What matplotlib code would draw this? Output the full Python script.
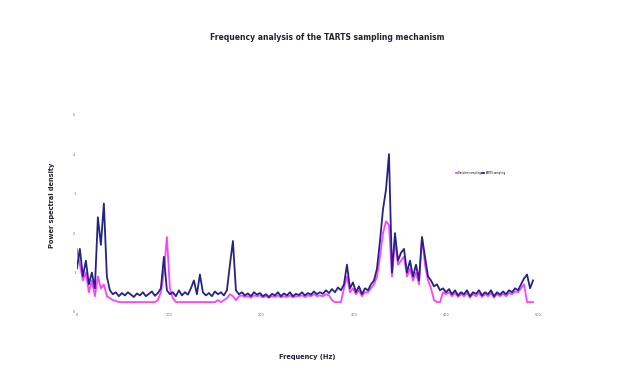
import numpy as np
import matplotlib
matplotlib.use("Agg")
import matplotlib.pyplot as plt

# Power spectral density values (arbitrary units)
tarts_psd = [
    1.1, 1.6, 0.9, 1.3, 0.7, 1.0, 0.6, 2.4, 1.7, 2.75,
    0.9, 0.55, 0.45, 0.5, 0.4, 0.48, 0.42, 0.5, 0.44, 0.38,
    0.47, 0.42, 0.5, 0.4, 0.46, 0.52, 0.41, 0.48, 0.6, 1.4,
    0.55, 0.45, 0.5, 0.4, 0.55, 0.42, 0.5, 0.44, 0.6, 0.8,
    0.45, 0.95, 0.5, 0.42, 0.48, 0.4, 0.52, 0.45, 0.5, 0.42,
    0.55, 1.2, 1.8, 0.55, 0.45, 0.5, 0.42, 0.47, 0.4, 0.5,
    0.44, 0.48, 0.4, 0.45, 0.38, 0.46, 0.42, 0.5, 0.4, 0.47,
    0.42, 0.5, 0.4, 0.46, 0.43, 0.5, 0.42, 0.48, 0.44, 0.52,
    0.45, 0.5, 0.46, 0.55, 0.48, 0.58, 0.5, 0.62, 0.55, 0.7,
    1.2, 0.6, 0.75, 0.5, 0.65, 0.45, 0.6, 0.55, 0.7, 0.8,
    1.1, 1.8, 2.6, 3.1, 4.0, 1.0, 2.0, 1.3, 1.5, 1.6,
    1.0, 1.3, 0.9, 1.2, 0.8, 1.9, 1.4, 0.9, 0.8, 0.65,
    0.7, 0.55, 0.6, 0.5, 0.58, 0.45, 0.55, 0.42, 0.5, 0.45,
    0.55, 0.4, 0.5, 0.46, 0.55, 0.42, 0.5, 0.45, 0.55, 0.4,
    0.5, 0.44, 0.52, 0.45, 0.55, 0.5, 0.6, 0.55, 0.7, 0.85,
    0.95, 0.6, 0.8,
]

random_psd = [
    1.6, 1.2, 0.8, 1.0, 0.5, 0.8, 0.4, 0.9, 0.6, 0.7,
    0.4, 0.35, 0.3, 0.28, 0.25, 0.25, 0.25, 0.25, 0.25, 0.25,
    0.25, 0.25, 0.25, 0.25, 0.25, 0.25, 0.25, 0.3, 0.5, 1.0,
    1.9, 0.6, 0.35, 0.25, 0.25, 0.25, 0.25, 0.25, 0.25, 0.25,
    0.25, 0.25, 0.25, 0.25, 0.25, 0.25, 0.25, 0.3, 0.25, 0.3,
    0.35, 0.45, 0.4, 0.3, 0.4, 0.42, 0.38, 0.4, 0.36, 0.42,
    0.4, 0.42, 0.37, 0.4, 0.36, 0.4, 0.38, 0.42, 0.37, 0.4,
    0.38, 0.42, 0.37, 0.4, 0.4, 0.42, 0.38, 0.42, 0.4, 0.45,
    0.4, 0.42, 0.4, 0.45, 0.42, 0.3, 0.25, 0.25, 0.25, 0.6,
    0.9, 0.5, 0.6, 0.45, 0.55, 0.4, 0.5, 0.5, 0.6, 0.7,
    0.9, 1.4, 2.0, 2.3, 2.2, 0.9, 1.8, 1.2, 1.3, 1.4,
    0.9, 1.1, 0.8, 1.0, 0.7, 1.9, 1.2, 0.8, 0.6, 0.3,
    0.25, 0.25, 0.5, 0.45, 0.5, 0.4, 0.48, 0.38, 0.45, 0.4,
    0.48, 0.36, 0.45, 0.4, 0.48, 0.38, 0.45, 0.4, 0.48, 0.36,
    0.45, 0.4, 0.46, 0.4, 0.48, 0.45, 0.52, 0.5, 0.6, 0.7,
    0.25, 0.25, 0.25,
]

freq = np.linspace(0, 494.6, len(tarts_psd))
x_ticks = [0, 100, 200, 300, 400, 500]
y_ticks = [0, 1, 2, 3, 4, 5]

fig = plt.figure(figsize=(6.3, 3.8), dpi=100)
ax = fig.add_axes([0.122, 0.179, 0.732, 0.558])

ax.plot(freq, random_psd, color="#ff40ff", lw=1.3, label="Random sampling")
ax.plot(freq, tarts_psd, color="#23238a", lw=1.3, label="TARTS sampling")

ax.set_xlim(0, 500)
ax.set_ylim(0.075, 5.375)
ax.set_xticks(x_ticks)
ax.set_yticks(y_ticks)
ax.tick_params(length=0, labelsize=2.5, labelcolor="#666688", pad=1)
for s in ax.spines.values():
    s.set_visible(False)

fig.text(0.52, 0.9, "Frequency analysis of the TARTS sampling mechanism",
         ha="center", va="center", fontsize=5.5, fontweight="bold", color="#222233")
fig.text(0.083, 0.46, "Power spectral density", rotation=90,
         ha="center", va="center", fontsize=4.8, fontweight="bold", color="#222233")
fig.text(0.487, 0.06, "Frequency (Hz)", ha="center", va="center",
         fontsize=4.8, fontweight="bold", color="#222233")

ax.legend(loc="center", bbox_to_anchor=(0.875, 0.655), fontsize=1.8,
          frameon=False, handlelength=0.6, ncol=2, columnspacing=0.5,
          handletextpad=0.3)

fig.savefig("out.png", dpi=100)
